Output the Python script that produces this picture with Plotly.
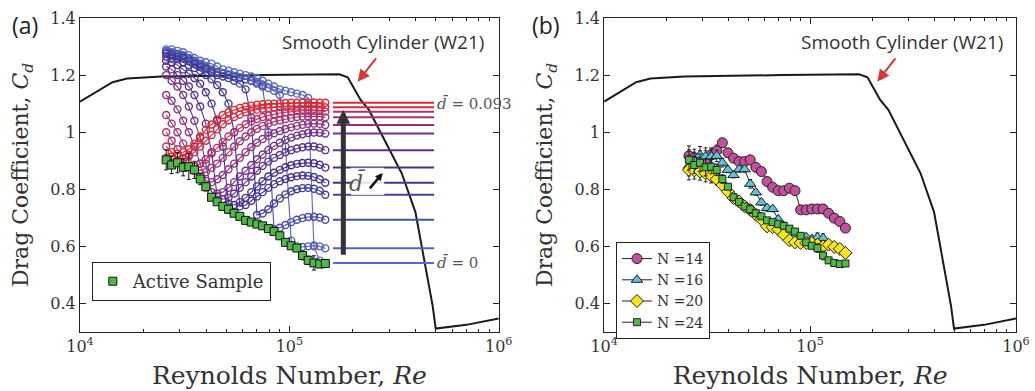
import math
import plotly.graph_objects as go

# ---------------- data ----------------
RE = [25800, 27400, 29200, 31100, 33100, 35200, 37500, 39900, 42500, 45200,
      48100, 51200, 54500, 58000, 61800, 65800, 70000, 74500, 79400, 84500,
      90000, 95800, 102000, 108600, 115600, 123000, 131000, 139500, 148500]

ACTIVE = [0.903, 0.885, 0.893, 0.877, 0.879, 0.868, 0.836, 0.809, 0.772, 0.756,
          0.740, 0.730, 0.716, 0.705, 0.691, 0.685, 0.678, 0.672, 0.662, 0.652,
          0.637, 0.614, 0.602, 0.594, 0.568, 0.551, 0.542, 0.538, 0.540]
ACTIVE_ERR = [0.035, 0.03, 0.035, 0.03, 0.045, 0.03, 0.02, 0.015, 0.01, 0.01,
              0.01, 0.015, 0.01, 0.01, 0.01, 0.01, 0.01, 0.01, 0.01, 0.01,
              0.01, 0.01, 0.01, 0.01, 0.015, 0.015, 0.025, 0.01, 0.01]

CD_0 = [1.29, 1.29, 1.285, 1.28, 1.27, 1.26, 1.25, 1.245, 1.24, 1.23, 1.22, 1.215, 1.21, 1.205, 1.2,
        1.195, 1.19, 1.18, 1.17, 1.16, 1.15, 1.145, 1.14, 1.135, 1.13, 1.12, 0.60, 0.55, 0.542]
CD_1 = [1.285, 1.28, 1.275, 1.27, 1.26, 1.25, 1.24, 1.23, 1.22, 1.21, 1.205, 1.2, 1.195, 1.19, 1.185,
        1.18, 1.175, 1.165, 1.155, 1.145, 1.13, 0.95, 0.62, 0.60, 0.598, 0.60, 0.603, 0.60, 0.593]
CD_2 = [1.28, 1.275, 1.27, 1.265, 1.255, 1.245, 1.235, 1.225, 1.215, 1.21, 1.205, 1.2, 1.195, 1.19, 1.185,
        1.18, 1.17, 1.16, 1.0, 0.66, 0.665, 0.675, 0.685, 0.693, 0.699, 0.703, 0.704, 0.701, 0.693]
CD_3 = [1.275, 1.27, 1.265, 1.26, 1.25, 1.24, 1.23, 1.22, 1.21, 1.2, 1.195, 1.19, 1.18, 1.17, 1.15,
        1.05, 0.71, 0.715, 0.73, 0.75, 0.768, 0.782, 0.793, 0.80, 0.804, 0.805, 0.802, 0.795, 0.781]
CD_4 = [1.265, 1.26, 1.255, 1.245, 1.235, 1.225, 1.215, 1.2, 1.185, 1.165, 1.14, 1.1, 1.0, 0.74, 0.745,
        0.76, 0.775, 0.79, 0.805, 0.818, 0.828, 0.836, 0.842, 0.846, 0.848, 0.847, 0.843, 0.835, 0.823]
CD_5 = [1.25, 1.245, 1.235, 1.22, 1.205, 1.19, 1.17, 1.14, 1.1, 1.04, 0.95, 0.75, 0.745, 0.755, 0.77,
        0.79, 0.81, 0.828, 0.845, 0.858, 0.868, 0.877, 0.884, 0.889, 0.892, 0.893, 0.891, 0.886, 0.876]
CD_6 = [1.23, 1.22, 1.2, 1.18, 1.16, 1.13, 1.09, 1.03, 0.93, 0.775, 0.765, 0.77, 0.785, 0.805, 0.825,
        0.845, 0.865, 0.882, 0.897, 0.91, 0.92, 0.93, 0.937, 0.943, 0.947, 0.95, 0.95, 0.946, 0.937]
CD_7 = [1.2, 1.18, 1.16, 1.13, 1.09, 1.04, 0.98, 0.89, 0.79, 0.785, 0.79, 0.805, 0.825, 0.845, 0.865,
        0.885, 0.905, 0.922, 0.938, 0.952, 0.963, 0.973, 0.981, 0.988, 0.993, 0.997, 0.999, 0.998, 0.995]
CD_8 = [1.13, 1.11, 1.08, 1.04, 1.0, 0.95, 0.89, 0.83, 0.825, 0.835, 0.85, 0.87, 0.89, 0.91, 0.93,
        0.948, 0.963, 0.976, 0.987, 0.996, 1.004, 1.011, 1.017, 1.022, 1.026, 1.029, 1.03, 1.029, 1.025]
CD_9 = [1.06, 1.03, 1.0, 0.96, 0.92, 0.865, 0.855, 0.86, 0.875, 0.89, 0.91, 0.93, 0.95, 0.968, 0.985,
        1.0, 1.012, 1.022, 1.03, 1.037, 1.042, 1.046, 1.05, 1.053, 1.055, 1.056, 1.056, 1.055, 1.052]
CD_10 = [1.0, 0.97, 0.94, 0.91, 0.88, 0.88, 0.89, 0.905, 0.925, 0.945, 0.965, 0.985, 1.0, 1.015, 1.028,
         1.038, 1.046, 1.053, 1.058, 1.063, 1.067, 1.07, 1.072, 1.074, 1.075, 1.075, 1.075, 1.074, 1.072]
CD_11 = [0.95, 0.93, 0.9, 0.905, 0.915, 0.93, 0.95, 0.97, 0.99, 1.01, 1.028, 1.042, 1.053, 1.062, 1.07,
         1.075, 1.079, 1.082, 1.085, 1.087, 1.088, 1.089, 1.09, 1.09, 1.09, 1.09, 1.089, 1.088, 1.087]
CD_12 = [0.91, 0.915, 0.925, 0.93, 0.94, 0.96, 0.985, 1.008, 1.027, 1.045, 1.06, 1.07, 1.078, 1.085, 1.09,
         1.093, 1.096, 1.098, 1.1, 1.1, 1.101, 1.102, 1.103, 1.103, 1.104, 1.104, 1.104, 1.103, 1.103]

SERIES_COLORS = ["#5a6ac0", "#5462b8", "#4a4eaa", "#43409c", "#413594", "#483190", "#5d328d",
                 "#743388", "#8c3381", "#a23277", "#b92f66", "#cd2c4e", "#e0282e"]

SMOOTH_RE = [1.0e4, 1.43e4, 1.68e4, 2.45e4, 7.3e4, 1.73e5, 1.9e5, 2.19e5, 2.4e5, 3.44e5,
             4.0e5, 4.58e5, 4.84e5, 5.0e5, 7.0e5, 1.0e6]
SMOOTH_CD = [1.107, 1.175, 1.188, 1.195, 1.200, 1.203, 1.192, 1.113, 1.078, 0.856,
             0.72, 0.495, 0.39, 0.312, 0.325, 0.347]

N14 = [0.917, 0.91, 0.905, 0.905, 0.92, 0.935, 0.963, 0.928, 0.909, 0.897, 0.897, 0.903, 0.877, 0.862, 0.827,
       0.807, 0.795, 0.795, 0.804, 0.795, 0.728, 0.728, 0.731, 0.731, 0.731, 0.716, 0.699, 0.687, 0.664]
N16 = [0.882, 0.9, 0.92, 0.915, 0.915, 0.917, 0.893, 0.868, 0.85, 0.87, 0.87, 0.819, 0.789, 0.754, 0.734,
       0.731, 0.695, 0.67, 0.641, 0.635, 0.629, 0.632, 0.626, 0.632, 0.629, 0.606, 0.6, 0.594, 0.582]
N20 = [0.868, 0.866, 0.862, 0.856, 0.847, 0.835, 0.815, 0.792, 0.769, 0.757, 0.74, 0.728, 0.711, 0.695, 0.67,
       0.667, 0.66, 0.641, 0.621, 0.614, 0.612, 0.612, 0.612, 0.606, 0.6, 0.606, 0.598, 0.591, 0.577]
N24 = ACTIVE
B_ERR = [0.035, 0.03, 0.03, 0.03, 0.025, 0.02, 0.015, 0.01, 0.01, 0.01, 0.01, 0.015, 0.01, 0.01, 0.01,
         0.01, 0.01, 0.01, 0.01, 0.01, 0.01, 0.01, 0.01, 0.015, 0.015, 0.01, 0.01, 0.01, 0.01]

N_LABELS = ["N =14", "N =16", "N =20", "N =24"]
Y_TICKS = [0.4, 0.6, 0.8, 1.0, 1.2, 1.4]
Y_TICK_TEXT = ["0.4", "0.6", "0.8", "1", "1.2", "1.4"]
X_TICKS = [1e4, 1e5, 1e6]
X_TICK_TEXT = ["10<sup>4</sup>", "10<sup>5</sup>", "10<sup>6</sup>"]

SERIES = [CD_0, CD_1, CD_2, CD_3, CD_4, CD_5, CD_6, CD_7, CD_8, CD_9, CD_10, CD_11, CD_12]
N_SERIES = [N14, N16, N20, N24]
N_SYMBOLS = ["circle", "triangle-up", "diamond", "square"]
N_COLORS = ["#c2509d", "#5ec3d6", "#f4e51c", "#52b848"]
N_SIZES = [10, 10, 10, 7]

# key line extent (Re)
KEY_X = [1.615e5, 4.91e5]

SERIF = "DejaVu Serif"
SANS = "Open Sans"

fig = go.Figure()

# ---------- panel (a) ----------
fig.add_trace(go.Scatter(x=SMOOTH_RE, y=SMOOTH_CD, mode="lines",
                         line=dict(color="#1a1a1a", width=2), showlegend=False,
                         xaxis="x", yaxis="y"))
for cd, col in zip(SERIES, SERIES_COLORS):
    fig.add_trace(go.Scatter(x=RE, y=cd, mode="lines+markers",
                             line=dict(color=col, width=1.1),
                             marker=dict(symbol="circle-open", size=7, color=col,
                                         line=dict(width=1.4)),
                             showlegend=False, xaxis="x", yaxis="y"))
for cd, col in zip(SERIES, SERIES_COLORS):
    fig.add_trace(go.Scatter(x=KEY_X, y=[cd[-1], cd[-1]], mode="lines",
                             line=dict(color=col, width=2), showlegend=False,
                             xaxis="x", yaxis="y"))
fig.add_trace(go.Scatter(x=RE, y=ACTIVE, mode="markers", name="Active Sample",
                         marker=dict(symbol="square", size=8, color="#52b848",
                                     line=dict(color="#111111", width=1)),
                         error_y=dict(type="data", array=ACTIVE_ERR, color="#111111",
                                      thickness=1, width=2),
                         xaxis="x", yaxis="y", legend="legend"))

# ---------- panel (b) ----------
fig.add_trace(go.Scatter(x=SMOOTH_RE, y=SMOOTH_CD, mode="lines",
                         line=dict(color="#1a1a1a", width=2), showlegend=False,
                         xaxis="x2", yaxis="y2"))
for cd, lab, sym, col, sz in zip(N_SERIES, N_LABELS, N_SYMBOLS, N_COLORS, N_SIZES):
    fig.add_trace(go.Scatter(x=RE, y=cd, mode="lines+markers", name=lab,
                             line=dict(color="#222222", width=1),
                             marker=dict(symbol=sym, size=sz, color=col,
                                         line=dict(color="#222222", width=1)),
                             error_y=dict(type="data", array=B_ERR, color="#222222",
                                          thickness=1, width=2),
                             xaxis="x2", yaxis="y2", legend="legend2"))

W, H = 1035, 391
ML, MR, MT, MB = 80, 5, 18, 59
PW = W - ML - MR
PH = H - MT - MB


def px_x(p):
    return (p - ML) / PW


def px_y(p):
    return (H - MB - p) / PH


axis_common = dict(showline=True, linecolor="#222222", linewidth=1, mirror="allticks",
                   ticks="inside", ticklen=6, tickcolor="#222222", showgrid=False,
                   zeroline=False, tickfont=dict(family=SERIF, size=16, color="#333333"))

xcommon = dict(axis_common, type="log", range=[4, 6], tickvals=X_TICKS, ticktext=X_TICK_TEXT,
               minor=dict(ticks="inside", ticklen=3, tickcolor="#222222",
                          tickvals=[k * 10 ** e for e in (4, 5) for k in range(2, 10)]),
               title=dict(text="Reynolds Number, <i>Re</i>",
                          font=dict(family=SERIF, size=25, color="#333333"), standoff=11))
ycommon = dict(axis_common, range=[0.3, 1.4], tickvals=Y_TICKS, ticktext=Y_TICK_TEXT,
               title=dict(text="Drag Coefficient, <i>C<sub>d</sub></i>",
                          font=dict(family=SERIF, size=22, color="#333333"), standoff=15))

fig.update_layout(
    width=W, height=H, margin=dict(l=ML, r=MR, t=MT, b=MB),
    paper_bgcolor="white", plot_bgcolor="white",
    xaxis=dict(xcommon, domain=[0, px_x(505)], anchor="y"),
    yaxis=dict(ycommon, domain=[0, 1], anchor="x"),
    xaxis2=dict(xcommon, domain=[px_x(612), 1], anchor="y2"),
    yaxis2=dict(ycommon, domain=[0, 1], anchor="x2"),
    legend=dict(x=px_x(92), y=px_y(262), xanchor="left", yanchor="top",
                bgcolor="white", bordercolor="#222222", borderwidth=1,
                font=dict(family=SERIF, size=18, color="#333333"), itemwidth=30),
    legend2=dict(x=px_x(624), y=px_y(242), xanchor="left", yanchor="top",
                 bgcolor="white", bordercolor="#222222", borderwidth=1,
                 font=dict(family=SERIF, size=14, color="#333333"), itemwidth=30,
                 tracegroupgap=0),
    showlegend=True,
)

L = math.log10
anns = []
for xr, yr in (("x", "y"), ("x2", "y2")):
    anns.append(dict(x=L(2.79e5), y=1.315, xref=xr, yref=yr, text="Smooth Cylinder (W21)",
                     showarrow=False, font=dict(family=SANS, size=19, color="#333333")))
    anns.append(dict(x=L(2.12e5), y=1.177, ax=L(2.63e5), ay=1.264, xref=xr, yref=yr,
                     axref=xr, ayref=yr, text="", showarrow=True, arrowhead=2,
                     arrowsize=1.2, arrowwidth=2, arrowcolor="#d23a3a"))

anns += [
    dict(x=px_x(24), y=px_y(25), xref="paper", yref="paper", text="(a)",
         xanchor="center", yanchor="middle",
         showarrow=False, font=dict(family=SANS, size=23, color="#222222")),
    dict(x=px_x(553), y=px_y(25), xref="paper", yref="paper", text="(b)",
         xanchor="center", yanchor="middle",
         showarrow=False, font=dict(family=SANS, size=23, color="#222222")),
    dict(x=L(4.94e5), y=1.097, xref="x", yref="y", xanchor="left", text="<i>d̄</i> = 0.093",
         showarrow=False, font=dict(family=SERIF, size=15, color="#555555")),
    dict(x=L(4.94e5), y=0.542, xref="x", yref="y", xanchor="left", text="<i>d̄</i> = 0",
         showarrow=False, font=dict(family=SERIF, size=15, color="#555555")),
    dict(x=L(1.81e5), y=1.078, ax=L(1.81e5), ay=0.565, xref="x", yref="y", axref="x",
         ayref="y", text="", showarrow=True, arrowhead=2, arrowsize=0.55, arrowwidth=5,
         arrowcolor="#333333"),
    dict(x=L(2.12e5), y=0.822, xref="x", yref="y", text="<i>d̄</i>",
         showarrow=False, font=dict(family=SERIF, size=22, color="#555555")),
    dict(x=L(2.79e5), y=0.857, ax=L(2.39e5), ay=0.798, xref="x", yref="y", axref="x",
         ayref="y", text="", showarrow=True, arrowhead=2, arrowsize=0.6, arrowwidth=2.5,
         arrowcolor="#111111"),
]
fig.update_layout(annotations=anns)

# translucent white patch behind the d-bar label
fig.add_shape(type="rect", xref="x", yref="y", x0=1.968e5, x1=2.84e5, y0=0.780, y1=0.875,
              fillcolor="rgba(255,255,255,0.85)", line=dict(width=0), layer="above")

fig.write_html("out.html")
